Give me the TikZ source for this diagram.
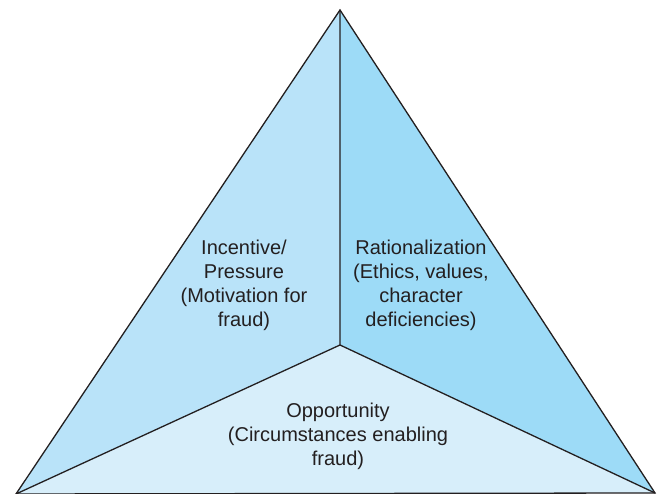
\documentclass[tikz,border=0pt]{standalone}
\usepackage{fontspec}
\setmainfont{Liberation Sans}
\usepackage{tikz}
\usetikzlibrary{positioning}
\definecolor{leftcol}{HTML}{B9E3F9}
\definecolor{rightcol}{HTML}{9DDBF7}
\definecolor{basecol}{HTML}{D7EEFA}
\definecolor{inkc}{HTML}{231F20}

\begin{document}
\begin{tikzpicture}[x=1pt,y=1pt,
  face/.style={draw=inkc,line width=1.3pt,line join=miter},
  lbl/.style={align=center,text=inkc,font=\fontsize{20}{24}\selectfont,inner sep=0pt},
]
\useasboundingbox (0,0) rectangle (657,494);
% corners of the triangle
\coordinate (top) at (340,484);
\coordinate (bl) at (16,0);
\coordinate (br) at (655,1);
\coordinate (mid) at (340,149);

% the three faces
\fill[leftcol] (top) -- (mid) -- (bl) -- cycle;
\fill[rightcol] (top) -- (br) -- (mid) -- cycle;
\fill[basecol] (bl) -- (mid) -- (br) -- cycle;
\draw[face] (top) -- (bl) -- (br) -- cycle;
\draw[face] (top) -- (mid) -- (bl);
\draw[face] (mid) -- (br);

% labels
\node[lbl] (incentive) at (244,209) {Incentive/\\Pressure\\(Motivation for\\fraud)};
\node[lbl] (rational) at (421,209) {Rationalization\\(Ethics, values,\\character\\deficiencies)};
\node[lbl] (opport) at (338,58) {Opportunity\\(Circumstances enabling\\fraud)};
\end{tikzpicture}
\end{document}
